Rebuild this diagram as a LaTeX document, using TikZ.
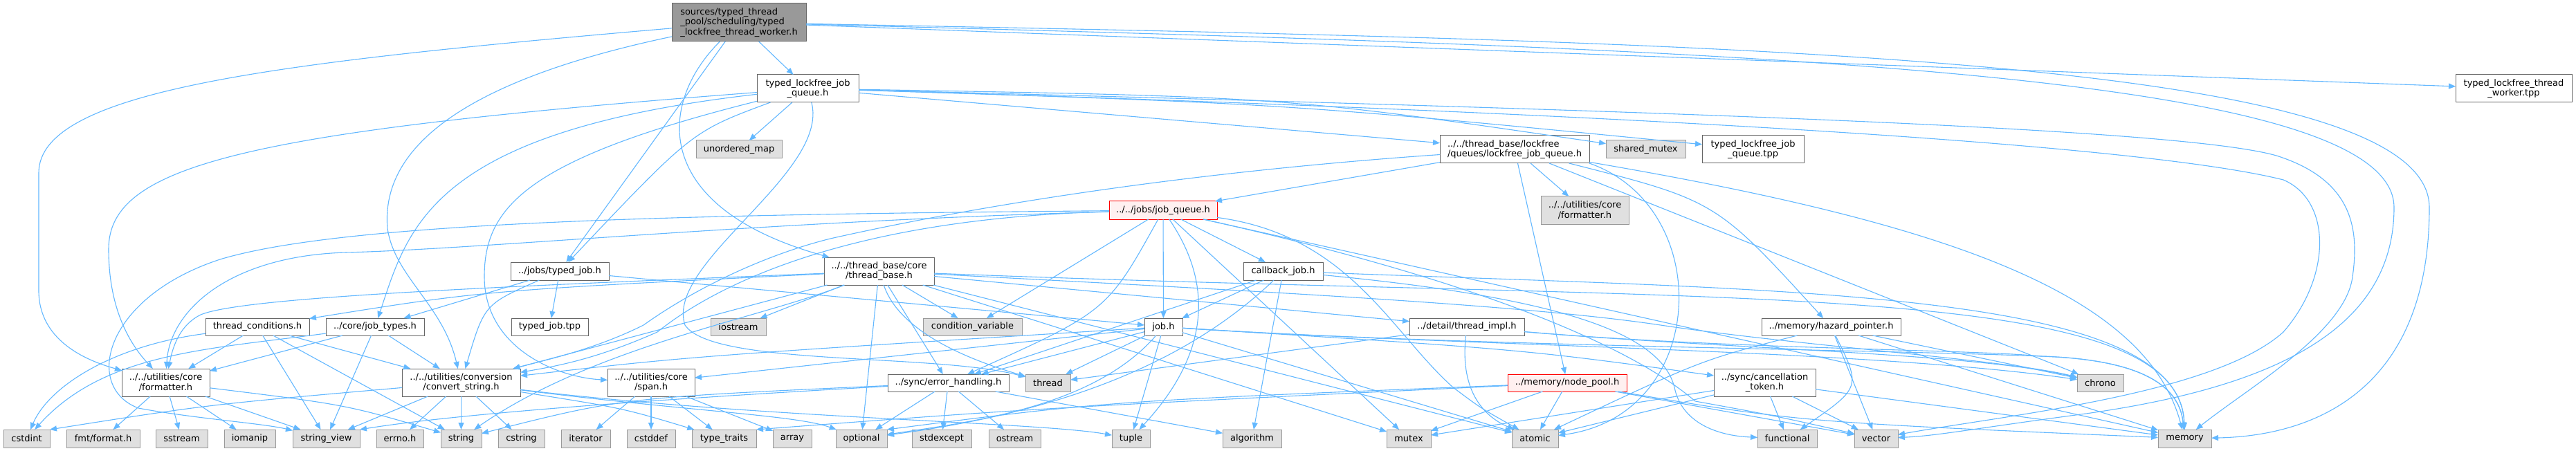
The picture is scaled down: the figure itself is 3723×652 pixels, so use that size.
\documentclass[tikz,border=0pt]{standalone}
\usepackage{fontspec}
\setmainfont{DejaVu Sans}
\usetikzlibrary{arrows.meta}
\definecolor{eblue}{HTML}{63B8FF}
\definecolor{dgray}{HTML}{666666}
\definecolor{lborder}{HTML}{999999}
\definecolor{lfill}{HTML}{E0E0E0}
\definecolor{mfill}{HTML}{999999}
\definecolor{rfill}{HTML}{FFF0F0}
\definecolor{rborder}{HTML}{FF0000}
\newcommand{\mknode}[7]{\node[#2, minimum width={#4-#3}, minimum height={#6-#5}] (#1) at ({(#3+#4)/2},{(#5+#6)/2}) {#7};}
\tikzset{
 basebox/.style={rectangle, inner sep=0pt, outer sep=0pt, line width=1pt, font=\fontsize{13}{14.7}\selectfont, align=center, text=black},
 fnode/.style={basebox, draw=dgray, fill=white},
 snode/.style={basebox, draw=lborder, fill=lfill},
 rnode/.style={basebox, draw=rborder, fill=rfill},
 mnode/.style={basebox, draw=dgray, fill=mfill, align=left},
 edg/.style={draw=eblue, line width=1.1pt, -{Triangle[length=10pt,width=8pt]}},
}
\begin{document}
\begin{tikzpicture}[x=1pt,y=-1pt]
\fill[white] (0,0) rectangle (3723,652);
\useasboundingbox (0,0) rectangle (3723,652);
% nodes
\mknode{main}{mnode}{971}{1165}{5}{60}{sources/typed\_thread\\\_pool/scheduling/typed\\\_lockfree\_thread\_worker.h}
\mknode{tljq}{fnode}{1094}{1241}{108}{148}{typed\_lockfree\_job\\\_queue.h}
\mknode{tltw}{fnode}{3549}{3717}{108}{148}{typed\_lockfree\_thread\\\_worker.tpp}
\mknode{umap}{snode}{1006}{1130}{203}{229}{unordered\_map}
\mknode{lfjq}{fnode, align=left}{2081}{2297}{196}{236}{../../thread\_base/lockfree\\/queues/lockfree\_job\_queue.h}
\mknode{smutex}{snode}{2321}{2436}{203}{229}{shared\_mutex}
\mknode{tljqt}{fnode}{2460}{2607}{196}{236}{typed\_lockfree\_job\\\_queue.tpp}
\mknode{jq}{rnode}{1603}{1759}{291}{317}{../../jobs/job\_queue.h}
\mknode{fmtg}{snode}{2227}{2354}{284}{324}{../../utilities/core\\/formatter.h}
\mknode{tjob}{fnode}{738}{880}{379}{405}{../jobs/typed\_job.h}
\mknode{tbase}{fnode}{1191}{1350}{372}{412}{../../thread\_base/core\\/thread\_base.h}
\mknode{cbjob}{fnode}{1797}{1912}{379}{405}{callback\_job.h}
\mknode{tcond}{fnode}{297}{447}{460}{485}{thread\_conditions.h}
\mknode{jtypes}{fnode}{471}{613}{460}{485}{../core/job\_types.h}
\mknode{tjtpp}{fnode}{739}{850}{460}{485}{typed\_job.tpp}
\mknode{iostream}{snode}{1027}{1107}{460}{485}{iostream}
\mknode{condvar}{snode}{1334}{1477}{460}{485}{condition\_variable}
\mknode{job}{fnode}{1654}{1709}{460}{485}{job.h}
\mknode{timpl}{fnode}{2037}{2203}{460}{485}{../detail/thread\_impl.h}
\mknode{hazard}{fnode}{2546}{2747}{460}{485}{../memory/hazard\_pointer.h}
\mknode{fmtw}{fnode}{176}{303}{533}{573}{../../utilities/core\\/formatter.h}
\mknode{convstr}{fnode}{581}{752}{533}{573}{../../utilities/conversion\\/convert\_string.h}
\mknode{span}{fnode}{878}{1004}{533}{573}{../../utilities/core\\/span.h}
\mknode{errh}{fnode}{1283}{1458}{541}{566}{../sync/error\_handling.h}
\mknode{thread}{snode}{1482}{1547}{541}{566}{thread}
\mknode{npool}{rnode}{2179}{2351}{541}{566}{../memory/node\_pool.h}
\mknode{chrono}{snode}{3002}{3069}{541}{566}{chrono}
\mknode{canc}{fnode}{2477}{2624}{533}{573}{../sync/cancellation\\\_token.h}
\mknode{cstdint}{snode}{5}{72}{621}{647}{cstdint}
\mknode{fmtfmt}{snode}{96}{202}{621}{647}{fmt/format.h}
\mknode{sstream}{snode}{225}{300}{621}{647}{sstream}
\mknode{iomanip}{snode}{324}{398}{621}{647}{iomanip}
\mknode{strview}{snode}{423}{520}{621}{647}{string\_view}
\mknode{errno}{snode}{544}{612}{621}{647}{errno.h}
\mknode{string}{snode}{637}{696}{621}{647}{string}
\mknode{cstring}{snode}{720}{787}{621}{647}{cstring}
\mknode{iterator}{snode}{811}{882}{621}{647}{iterator}
\mknode{cstddef}{snode}{906}{976}{621}{647}{cstddef}
\mknode{typetraits}{snode}{1000}{1093}{621}{647}{type\_traits}
\mknode{array}{snode}{1117}{1173}{621}{647}{array}
\mknode{optional}{snode}{1208}{1282}{621}{647}{optional}
\mknode{stdexcept}{snode}{1318}{1404}{621}{647}{stdexcept}
\mknode{ostream}{snode}{1429}{1504}{621}{647}{ostream}
\mknode{tuple}{snode}{1607}{1662}{621}{647}{tuple}
\mknode{algorithm}{snode}{1767}{1852}{621}{647}{algorithm}
\mknode{mutex}{snode}{2004}{2068}{621}{647}{mutex}
\mknode{atomic}{snode}{2185}{2252}{621}{647}{atomic}
\mknode{functional}{snode}{2540}{2626}{621}{647}{functional}
\mknode{vector}{snode}{2680}{2743}{621}{647}{vector}
\mknode{memory}{snode}{3119}{3196}{621}{647}{memory}
% main
\draw[edg] (main) -- (tljq);
\draw[edg] (main) -- (tjob);
\draw[edg] (main) .. controls (950,150) and (940,300) .. (tbase);
\draw[edg] (main) .. controls (400,90) and (56,130) .. (56,250) -- (56,420) .. controls (56,490) and (120,520) .. (fmtw);
\draw[edg] (main) .. controls (700,110) and (549,200) .. (560,330) .. controls (570,400) and (640,440) .. (convstr);
\draw[edg] (main) -- (tltw);
\draw[edg] (main) .. controls (2500,60) and (3511,80) .. (3511,300) .. controls (3511,560) and (3350,630) .. (memory);
\draw[edg] (main) .. controls (2500,70) and (3460,100) .. (3460,300) .. controls (3460,470) and (3300,560) .. (3000,600) .. controls (2850,620) and (2800,630) .. (vector);
% typed_lockfree_job_queue.h
\draw[edg] (tljq) -- (lfjq);
\draw[edg] (tljq) .. controls (1860,140) .. (smutex);
\draw[edg] (tljq) .. controls (1860,150) .. (tljqt);
\draw[edg] (tljq) -- (umap);
\draw[edg] (tljq) .. controls (1000,190) .. (tjob);
\draw[edg] (tljq) .. controls (620,190) and (590,330) .. (jtypes);
\draw[edg] (tljq) .. controls (350,190) and (157,240) .. (157,360) .. controls (157,450) and (190,500) .. (fmtw);
\draw[edg] (tljq) .. controls (760,230) and (700,300) .. (700,400) .. controls (700,500) and (800,545) .. (span);
\draw[edg] (tljq) .. controls (1200,250) and (960,380) .. (990,470) .. controls (1030,530) and (1350,510) .. (thread);
\draw[edg] (tljq) .. controls (2400,160) and (3150,185) .. (3290,225) .. controls (3400,260) and (3410,330) .. (3400,400) .. controls (3390,480) and (3250,560) .. (memory);
\draw[edg] (tljq) .. controls (2400,165) and (3100,210) .. (3300,260) .. controls (3370,290) and (3370,400) .. (3300,480) .. controls (3200,570) and (2900,600) .. (vector);
% lockfree_job_queue.h
\draw[edg] (lfjq) -- (jq);
\draw[edg] (lfjq) -- (fmtg);
\draw[edg] (lfjq) -- (npool);
\draw[edg] (lfjq) .. controls (2480,290) .. (hazard);
\draw[edg] (lfjq.south east) .. controls (2480,300) and (2470,600) .. (atomic);
\draw[edg] (lfjq) .. controls (2800,320) and (3100,420) .. (memory);
\draw[edg] (lfjq) -- (chrono);
\draw[edg] (lfjq) .. controls (1700,250) and (1400,300) .. (1200,345) .. controls (1100,370) and (1000,420) .. (930,470) .. controls (860,505) and (790,520) .. (convstr);
% job_queue.h
\draw[edg] (jq) -- (job);
\draw[edg] (jq) -- (cbjob);
\draw[edg] (jq) .. controls (1600,450) .. (errh);
\draw[edg] (jq) -- (condvar);
\draw[edg] (jq) .. controls (1760,420) and (1740,520) .. (tuple);
\draw[edg] (jq) .. controls (1100,320) and (700,360) .. (500,365) .. controls (330,370) and (245,450) .. (fmtw);
\draw[edg] (jq) .. controls (1000,310) and (500,320) .. (318,375) .. controls (150,430) and (120,560) .. (200,590) .. controls (280,605) and (380,612) .. (strview);
\draw[edg] (jq) .. controls (1250,315) and (1050,400) .. (950,480) .. controls (860,520) and (800,530) .. (convstr);
\draw[edg] (jq) -- (mutex);
\draw[edg] (jq) .. controls (1950,340) and (2010,480) .. (2100,560) .. controls (2140,590) .. (atomic);
\draw[edg] (jq) -- (memory);
\draw[edg] (jq) .. controls (2200,420) and (2380,520) .. (2450,580) .. controls (2560,600) .. (vector);
% thread_base.h
\draw[edg] (tbase) .. controls (700,420) .. (tcond);
\draw[edg] (tbase) -- (timpl);
\draw[edg] (tbase) -- (errh);
\draw[edg] (tbase) -- (condvar);
\draw[edg] (tbase) .. controls (1300,480) and (1400,520) .. (thread);
\draw[edg] (tbase) -- (iostream);
\draw[edg] (tbase) .. controls (700,415) and (350,430) .. (290,455) .. controls (260,470) and (250,500) .. (fmtw);
\draw[edg] (tbase) -- (convstr);
\draw[edg] (tbase) -- (optional);
\draw[edg] (tbase) .. controls (1100,460) and (860,500) .. (string);
\draw[edg] (tbase) .. controls (2500,440) and (3150,400) .. (memory);
\draw[edg] (tbase) -- (atomic);
\draw[edg] (tbase) -- (mutex);
\draw[edg] (tbase) .. controls (1800,420) and (2200,440) .. (2400,470) .. controls (2600,500) and (2900,520) .. (chrono);
% typed_job.h
\draw[edg] (tjob) -- (tjtpp);
\draw[edg] (tjob) -- (job);
\draw[edg] (tjob) .. controls (700,440) .. (convstr);
\draw[edg] (tjob) -- (jtypes);
% callback_job.h
\draw[edg] (cbjob) -- (job);
\draw[edg] (cbjob) -- (errh);
\draw[edg] (cbjob) .. controls (1700,540) and (1500,600) .. (optional);
\draw[edg] (cbjob) -- (algorithm);
\draw[edg] (cbjob) .. controls (2250,430) and (2400,480) .. (2420,560) .. controls (2430,610) and (2480,630) .. (functional);
\draw[edg] (cbjob) .. controls (2600,420) and (3150,420) .. (memory);
% thread_conditions.h
\draw[edg] (tcond) -- (fmtw);
\draw[edg] (tcond) .. controls (160,500) and (70,560) .. (cstdint);
\draw[edg] (tcond) -- (strview);
\draw[edg] (tcond) -- (convstr);
\draw[edg] (tcond) -- (string);
% job_types.h
\draw[edg] (jtypes) -- (fmtw);
\draw[edg] (jtypes) .. controls (300,505) and (150,510) .. (cstdint);
\draw[edg] (jtypes) -- (strview);
\draw[edg] (jtypes) -- (convstr);
% job.h
\draw[edg] (job) .. controls (2200,505) .. (canc);
\draw[edg] (job) -- (errh);
\draw[edg] (job) .. controls (1580,590) and (1400,610) .. (optional);
\draw[edg] (job) -- (tuple);
\draw[edg] (job) -- (thread);
\draw[edg] (job) -- (atomic);
\draw[edg] (job) .. controls (2100,500) and (2700,505) .. (2950,515) .. controls (3100,520) and (3150,560) .. (memory);
\draw[edg] (job) .. controls (2100,500) and (2700,505) .. (chrono);
\draw[edg] (job) .. controls (1000,515) .. (convstr);
\draw[edg] (job) -- (span);
% thread_impl.h
\draw[edg] (timpl) -- (thread);
\draw[edg] (timpl) .. controls (2110,560) and (2140,600) .. (atomic);
\draw[edg] (timpl) .. controls (2500,505) and (2850,505) .. (2950,515) .. controls (3100,520) and (3150,560) .. (memory);
\draw[edg] (timpl) .. controls (2500,505) and (2850,510) .. (chrono);
% hazard_pointer.h
\draw[edg] (hazard) .. controls (2460,520) .. (atomic);
\draw[edg] (hazard) .. controls (2690,560) .. (functional);
\draw[edg] (hazard) -- (vector);
\draw[edg] (hazard) -- (memory);
\draw[edg] (hazard) -- (chrono);
% error_handling.h
\draw[edg] (errh) -- (optional);
\draw[edg] (errh) -- (stdexcept);
\draw[edg] (errh) -- (ostream);
\draw[edg] (errh) .. controls (900,575) .. (string);
\draw[edg] (errh) .. controls (900,580) and (650,600) .. (strview.north east);
\draw[edg] (errh) -- (algorithm);
% formatter.h
\draw[edg] (fmtw) -- (fmtfmt);
\draw[edg] (fmtw) -- (sstream);
\draw[edg] (fmtw) -- (iomanip);
\draw[edg] (fmtw) -- (strview);
\draw[edg] (fmtw) .. controls (500,585) .. (string);
% convert_string.h
\draw[edg] (convstr) -- (string);
\draw[edg] (convstr) -- (cstring);
\draw[edg] (convstr) .. controls (300,585) .. (cstdint.north east);
\draw[edg] (convstr) -- (strview);
\draw[edg] (convstr) -- (errno);
\draw[edg] (convstr) .. controls (900,590) .. (typetraits);
\draw[edg] (convstr) .. controls (1000,595) and (1150,600) .. (optional);
\draw[edg] (convstr) .. controls (1100,605) and (1500,610) .. (tuple);
% span.h
\draw[edg] (span) -- (iterator);
\draw[edg] (span) -- (cstddef);
\draw[edg] (span) -- (typetraits);
\draw[edg] (span) -- (array);
% node_pool.h
\draw[edg] (npool) -- (atomic);
\draw[edg] (npool) -- (mutex);
\draw[edg] (npool) .. controls (2600,610) .. (memory);
\draw[edg] (npool) -- (vector);
\draw[edg] (npool) .. controls (1500,590) .. (typetraits.north east);
\draw[edg] (npool) .. controls (1600,580) .. (optional.north east);
% cancellation_token.h
\draw[edg] (canc) -- (functional);
\draw[edg] (canc) -- (vector);
\draw[edg] (canc) -- (memory);
\draw[edg] (canc) -- (atomic);
\draw[edg] (canc) -- (mutex);
\end{tikzpicture}
\end{document}
